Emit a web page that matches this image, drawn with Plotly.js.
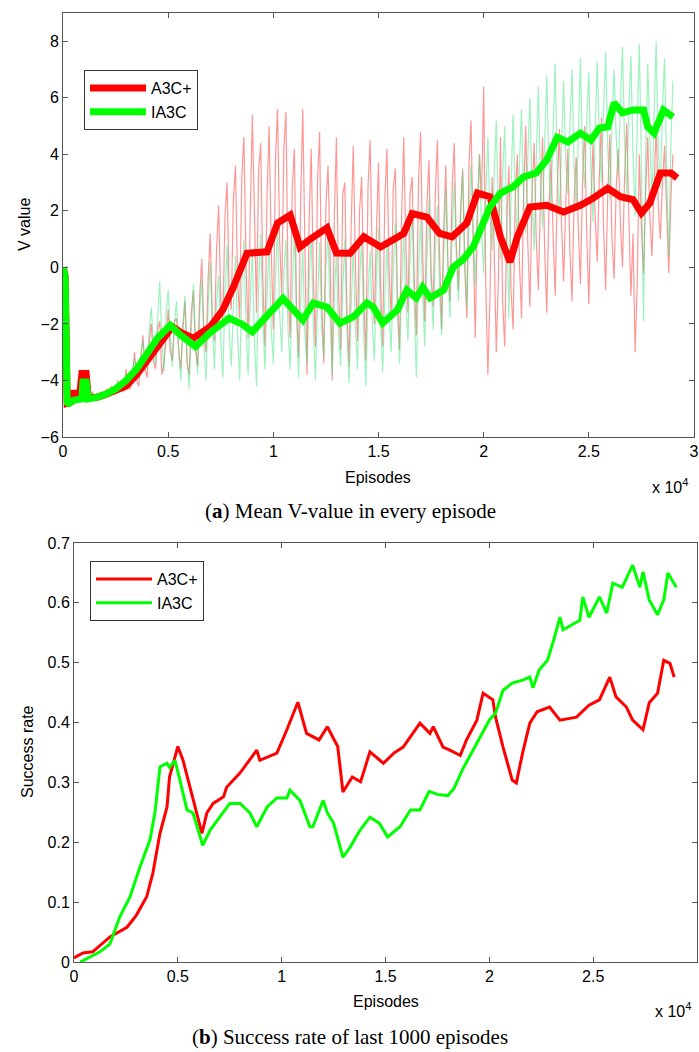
<!DOCTYPE html>
<html>
<head>
<meta charset="utf-8">
<script src="https://cdn.plot.ly/plotly-3.0.1.min.js"></script>
<style>html,body{margin:0;padding:0;background:#fff;}#chart{width:699px;height:1052px;}</style>
</head>
<body>
<div id="chart"></div>
<script>
// ---------- Data (a): V value ----------
const rawStep = 100; // episodes between raw samples
const a3cRawV = [
 0,-2.0,-4.8,-4.75,-4.6,-4.4,-4.5,-4.35,-4.45,-3.8,
 -3.7,-3.8,-4.6,-4.55,-4.4,-4.6,-4.5,-4.65,-4.4,-4.55,
 -4.5,-4.3,-4.45,-4.2,-4.5,-4.35,-4.0,-4.4,-4.2,-4.4,
 -3.6,-4.1,-4.3,-3.9,-3.0,-4.0,-4.2,-3.2,-2.4,-3.6,
 -3.9,-2.6,-2.0,-3.3,-3.6,-2.2,-1.9,-3.8,-3.4,-2.5,
 -1.5,-3.0,-3.3,-1.9,-1.8,-2.9,-3.6,-2.2,-1.2,-3.4,
 -3.8,-1.6,-0.8,-2.9,-3.5,-1.0,0.3,-2.4,-3.0,-0.4,
 1.2,-1.8,-2.6,0.6,2.2,-1.2,-2.0,1.8,3.0,-0.8,
 -1.5,2.4,3.6,-0.5,-1.8,3.2,4.6,0.2,-2.5,1.8,
 5.4,2.0,-1.6,3.4,4.4,-0.4,-2.8,2.6,5.0,0.6,
 -2.2,3.8,5.6,1.0,-1.0,4.2,5.5,-0.6,-2.5,2.8,
 4.2,-1.4,-3.2,2.4,5.6,0.8,-3.8,1.6,4.2,-0.2,
 -2.8,3.0,4.8,-1.2,-3.4,2.2,3.6,0.4,-4.0,1.8,
 4.6,-0.8,-2.9,2.6,3.0,-1.6,-3.5,1.4,4.3,0.2,
 -2.6,2.0,3.2,-1.0,-3.3,2.8,4.5,0.4,-2.0,1.2,
 3.7,-0.6,-2.8,2.4,4.2,0.0,-1.8,2.8,3.5,-1.2,
 -2.9,1.8,4.6,0.8,-1.6,2.6,3.2,-0.4,-2.4,3.0,
 4.8,0.4,-1.9,2.2,3.8,-0.2,-1.4,2.6,4.5,0.6,
 -2.2,1.4,3.6,0.2,-1.2,2.8,4.4,0.8,-0.8,2.0,
 3.5,0.0,-1.8,3.6,5.2,1.0,-2.5,1.8,4.0,2.4,
 6.4,-0.6,-3.8,-1.0,3.2,0.6,-3.0,-0.4,4.6,-1.2,
 -2.8,1.6,3.6,-0.8,-2.2,2.4,4.0,0.2,-1.8,2.6,
 5.0,0.8,-1.4,2.6,4.4,1.0,-0.8,2.4,4.6,0.6,
 -1.6,2.0,3.8,1.2,-1.0,2.8,4.9,1.6,-0.5,2.2,
 4.2,0.6,-1.2,2.4,3.9,1.4,-0.6,3.0,5.0,1.2,
 -1.3,2.2,4.4,1.8,0.2,3.2,5.3,1.4,-0.8,2.6,
 4.7,1.0,-0.4,2.8,4.2,1.6,0.0,3.2,5.1,1.8,
 -1.0,1.2,-3.0,-0.6,4.0,1.4,-0.2,2.6,4.6,1.8,
 0.4,2.8,5.0,2.2,1.0,3.0,4.3,2.0,-0.2,2.4,
 4.0];
const ia3cRawV = [
 0,-2.0,-4.85,-4.8,-4.7,-4.7,-4.7,-4.65,-4.6,-4.2,
 -4.0,-4.1,-4.65,-4.6,-4.5,-4.6,-4.6,-4.55,-4.45,-4.5,
 -4.5,-4.4,-4.3,-4.35,-4.4,-4.2,-4.1,-4.25,-4.2,-4.0,
 -3.8,-4.0,-4.1,-3.6,-3.2,-3.8,-3.9,-3.0,-2.6,-3.4,
 -3.6,-2.2,-1.4,-2.8,-3.4,-1.8,-0.5,-2.6,-3.7,-1.6,
 -0.8,-2.4,-3.5,-1.9,-1.2,-3.0,-4.0,-2.0,-1.0,-3.2,
 -4.3,-2.2,-0.6,-2.6,-3.8,-1.6,-0.4,-2.8,-4.0,-1.4,
 0.2,-2.0,-3.6,-1.2,-0.3,-2.6,-3.9,-1.0,0.8,-2.2,
 -3.5,-1.4,0.4,-2.4,-4.0,-0.8,1.0,-2.0,-3.8,-1.2,
 0.6,-2.6,-4.2,-0.6,1.2,-1.8,-3.6,-1.0,0.8,-2.2,
 -3.4,-0.4,1.5,-1.6,-3.0,-0.2,1.0,-2.2,-3.6,-0.8,
 1.4,-1.6,-3.9,-1.2,0.6,-2.4,-3.4,-0.6,1.2,-2.0,
 -4.0,-1.4,0.9,-2.2,-3.2,0.0,1.3,-1.8,-3.8,-1.0,
 0.5,-2.4,-3.5,-0.8,1.0,-2.2,-4.1,-1.4,0.7,-2.0,
 -3.6,-0.6,1.1,-2.4,-4.2,-1.0,0.6,-1.8,-3.3,-0.4,
 1.4,-2.0,-3.7,-1.2,0.9,-1.6,-3.0,-0.2,1.6,-1.4,
 -3.4,-0.6,1.2,-1.2,-2.6,0.4,2.0,-1.4,-3.9,-0.2,
 1.8,-1.0,-2.8,0.2,2.4,-0.6,-2.2,0.6,2.2,-0.8,
 -2.4,0.4,2.8,-0.2,-1.8,1.2,3.0,0.4,-1.2,1.6,
 3.4,0.6,-1.4,1.8,3.6,1.2,-0.6,2.2,4.0,1.4,
 -0.2,2.6,4.6,1.8,0.6,3.4,5.2,2.0,0.3,3.2,
 5.0,1.4,-1.8,2.8,5.4,2.6,0.8,3.6,5.6,2.4,
 1.2,4.0,6.0,2.8,0.6,3.8,6.4,3.2,1.4,4.4,
 6.8,3.6,2.2,4.8,7.2,3.4,1.8,4.2,6.6,3.8,
 2.6,5.0,7.0,3.6,2.0,4.6,7.4,4.0,2.8,5.2,
 6.9,3.4,1.6,4.8,7.3,4.4,3.0,5.6,7.6,4.2,
 2.4,5.2,7.0,4.6,3.2,5.8,7.8,4.4,2.6,5.4,
 7.5,4.0,1.8,5.0,7.9,3.6,-1.9,3.8,7.2,4.6,
 2.2,5.4,8.0,4.2,2.8,5.6,7.4,3.4,0.4,4.4,
 6.6];

const a3cSmoothX = [0,100,200,400,500,800,900,1100,1200,1600,2000,2500,3000,3500,4000,4500,5000,5200,5600,6200,
 7000,7600,8100,8750,9700,10200,10800,11270,11700,12550,13000,13650,14300,15100,16200,16600,17300,17900,18500,19200,
 19700,20300,20800,21250,21600,22200,23000,23800,24600,25100,25900,26500,27100,27500,27900,28400,28900,29200];
const a3cSmoothV = [0,-0.3,-4.8,-4.75,-4.45,-4.45,-3.75,-3.75,-4.6,-4.6,-4.5,-4.35,-4.2,-3.8,-3.3,-2.8,-2.2,-2.1,-2.3,-2.5,
 -2.1,-1.5,-0.7,0.5,0.55,1.57,1.85,0.72,0.97,1.4,0.51,0.5,1.08,0.72,1.2,1.9,1.78,1.2,1.08,1.57,
 2.63,2.5,1.08,0.19,1.08,2.14,2.2,1.96,2.2,2.4,2.8,2.5,2.4,1.92,2.28,3.34,3.34,3.16];
const ia3cSmoothX = [0,100,200,500,900,950,1100,1200,1600,2000,2500,3000,3500,4000,4500,5100,5600,6300,7000,7900,
 8500,9000,9500,10460,11400,11900,12550,13170,13800,14450,14750,15200,15900,16350,16800,17100,17450,18100,18550,19000,
 19500,20000,20300,20800,21400,21900,22500,23000,23500,24000,24600,25100,25500,25900,26200,26600,27100,27600,27800,28100,
 28550,29000];
const ia3cSmoothV = [0,-0.3,-4.85,-4.7,-4.65,-4.05,-4.05,-4.65,-4.6,-4.5,-4.3,-4.0,-3.6,-3.1,-2.5,-2.05,-2.4,-2.8,-2.3,-1.8,
 -2.0,-2.28,-1.86,-1.1,-1.86,-1.26,-1.4,-1.97,-1.75,-1.26,-1.4,-1.97,-1.5,-0.8,-1.08,-0.7,-1.08,-0.8,0.01,0.26,
 0.72,1.68,2.14,2.63,2.85,3.2,3.34,3.8,4.6,4.44,4.75,4.5,4.93,4.97,5.82,5.47,5.57,5.57,4.97,4.75,
 5.57,5.32];

// ---------- Data (b): success rate ----------
const a3cRateX = [0,430,900,1730,2550,3000,3500,3800,4140,4480,4600,5000,5250,5500,5750,6070,6160,6400,6700,7200,
 7350,8000,8800,8950,9770,10250,10780,11200,11800,12200,12700,12950,13400,13800,14250,14900,15400,15850,16660,17140,
 17300,17770,18100,18600,18900,19400,19700,20170,20300,20660,21100,21300,21600,21950,22300,22900,23400,24200,24800,25300,
 25800,26100,26600,26900,27400,27700,28100,28400,28700,28900];
const a3cRateV = [0.007,0.015,0.017,0.042,0.058,0.078,0.109,0.149,0.215,0.259,0.309,0.36,0.337,0.304,0.27,0.226,0.215,0.249,0.265,0.276,
 0.292,0.316,0.354,0.337,0.349,0.388,0.434,0.382,0.371,0.393,0.36,0.284,0.309,0.301,0.351,0.332,0.349,0.359,0.399,0.382,
 0.393,0.359,0.354,0.345,0.371,0.404,0.449,0.438,0.409,0.359,0.304,0.299,0.349,0.399,0.418,0.426,0.404,0.409,0.429,0.438,
 0.476,0.443,0.426,0.404,0.388,0.433,0.449,0.504,0.499,0.476];
const ia3cRateX = [300,1250,1730,2200,2700,3180,3660,3900,4140,4470,4600,4860,5100,5440,5730,6200,6550,7000,7500,8000,
 8470,8800,9300,9770,10250,10400,10880,11360,11500,12000,12200,12500,12950,13300,13770,14250,14700,15100,15700,16200,
 16660,17100,17500,18000,18300,18700,19400,20000,20300,20660,21100,21600,21950,22100,22400,22800,23100,23400,23550,24360,
 24500,24800,25300,25650,25950,26400,26900,27250,27400,27700,28100,28400,28600,29000];
const ia3cRateV = [0.0,0.017,0.03,0.075,0.109,0.159,0.204,0.25,0.326,0.332,0.325,0.337,0.304,0.254,0.249,0.195,0.22,0.242,0.265,0.265,
 0.249,0.226,0.259,0.274,0.274,0.287,0.27,0.226,0.226,0.27,0.249,0.232,0.175,0.192,0.22,0.242,0.232,0.209,0.226,0.254,
 0.254,0.285,0.28,0.278,0.29,0.321,0.366,0.404,0.416,0.454,0.466,0.471,0.476,0.458,0.488,0.504,0.538,0.576,0.555,0.571,
 0.61,0.576,0.61,0.583,0.633,0.626,0.663,0.626,0.652,0.605,0.58,0.605,0.65,0.626];

const seriesNames = ['A3C+','IA3C'];
const xTickVals = [0,5000,10000,15000,20000,25000,30000];
const xTickText = ['0','0.5','1','1.5','2','2.5','3'];
const vTickVals = [-6,-4,-2,0,2,4,6,8];
const rateTickVals = [0,0.1,0.2,0.3,0.4,0.5,0.6,0.7];

const RED='#ff0000', GREEN='#00ff00';
const W=699,H=1052;
const px=(x)=>x/W, py=(y)=>1-y/H;

const traces = [
 {x0:0,dx:rawStep,y:a3cRawV,type:'scatter',mode:'lines',line:{color:'rgba(255,80,80,0.6)',width:1.2},showlegend:false,hoverinfo:'skip',xaxis:'x',yaxis:'y'},
 {x0:0,dx:rawStep,y:ia3cRawV,type:'scatter',mode:'lines',line:{color:'rgba(60,230,130,0.5)',width:1.2},showlegend:false,hoverinfo:'skip',xaxis:'x',yaxis:'y'},
 {x:a3cSmoothX,y:a3cSmoothV,type:'scatter',mode:'lines',name:seriesNames[0],line:{color:RED,width:7},xaxis:'x',yaxis:'y',legend:'legend'},
 {x:ia3cSmoothX,y:ia3cSmoothV,type:'scatter',mode:'lines',name:seriesNames[1],line:{color:GREEN,width:7},xaxis:'x',yaxis:'y',legend:'legend'},
 {x:a3cRateX,y:a3cRateV,type:'scatter',mode:'lines',name:seriesNames[0],line:{color:RED,width:3},xaxis:'x2',yaxis:'y2',legend:'legend2'},
 {x:ia3cRateX,y:ia3cRateV,type:'scatter',mode:'lines',name:seriesNames[1],line:{color:GREEN,width:3},xaxis:'x2',yaxis:'y2',legend:'legend2'}
];

const font = {family:'Liberation Sans, Arial, sans-serif',size:16,color:'#000'};
const axisCommon = {showline:true,linecolor:'#555',linewidth:1,mirror:'ticks',ticks:'inside',ticklen:5,tickcolor:'#555',
  showgrid:false,zeroline:false,tickfont:font};

const layout = {
 width:W,height:H,margin:{l:0,r:0,t:0,b:0},paper_bgcolor:'#fff',plot_bgcolor:'#fff',font:font,
 xaxis:Object.assign({},axisCommon,{domain:[px(63),px(694)],range:[0,30000],tickvals:xTickVals,ticktext:xTickText,anchor:'y'}),
 yaxis:Object.assign({},axisCommon,{domain:[py(437),py(13)],range:[-6,9],tickvals:vTickVals,anchor:'x'}),
 xaxis2:Object.assign({},axisCommon,{domain:[px(74),px(697)],range:[0,30000],tickvals:xTickVals,ticktext:xTickText,anchor:'y2'}),
 yaxis2:Object.assign({},axisCommon,{domain:[py(962),py(543)],range:[0,0.7],tickvals:rateTickVals,anchor:'x2'}),
 legend:{x:px(84),y:py(70),xanchor:'left',yanchor:'top',bordercolor:'#333',borderwidth:1,bgcolor:'#fff',font:font,itemwidth:56,tracegroupgap:0},
 legend2:{x:px(90),y:py(561),xanchor:'left',yanchor:'top',bordercolor:'#333',borderwidth:1,bgcolor:'#fff',font:font,itemwidth:56,tracegroupgap:0},
 annotations:[
  {xref:'paper',yref:'paper',x:px(25),y:py(225),text:'V value',textangle:-90,showarrow:false,font:font,xanchor:'center',yanchor:'middle'},
  {xref:'paper',yref:'paper',x:px(378),y:py(477),text:'Episodes',showarrow:false,font:font,xanchor:'center',yanchor:'middle'},
  {xref:'paper',yref:'paper',x:px(690),y:py(486),text:'x 10<sup>4</sup>',showarrow:false,font:font,xanchor:'right',yanchor:'middle'},
  {xref:'paper',yref:'paper',x:px(350),y:py(511),text:'(<b>a</b>) Mean V-value in every episode',showarrow:false,font:{family:'Liberation Serif, serif',size:21,color:'#000'},xanchor:'center',yanchor:'middle'},
  {xref:'paper',yref:'paper',x:px(27),y:py(752),text:'Success rate',textangle:-90,showarrow:false,font:font,xanchor:'center',yanchor:'middle'},
  {xref:'paper',yref:'paper',x:px(386),y:py(1001),text:'Episodes',showarrow:false,font:font,xanchor:'center',yanchor:'middle'},
  {xref:'paper',yref:'paper',x:px(693),y:py(1010),text:'x 10<sup>4</sup>',showarrow:false,font:font,xanchor:'right',yanchor:'middle'},
  {xref:'paper',yref:'paper',x:px(350),y:py(1037),text:'(<b>b</b>) Success rate of last 1000 episodes',showarrow:false,font:{family:'Liberation Serif, serif',size:21,color:'#000'},xanchor:'center',yanchor:'middle'}
 ]
};

Plotly.newPlot('chart',traces,layout,{displayModeBar:false,staticPlot:true});
</script>
</body>
</html>
